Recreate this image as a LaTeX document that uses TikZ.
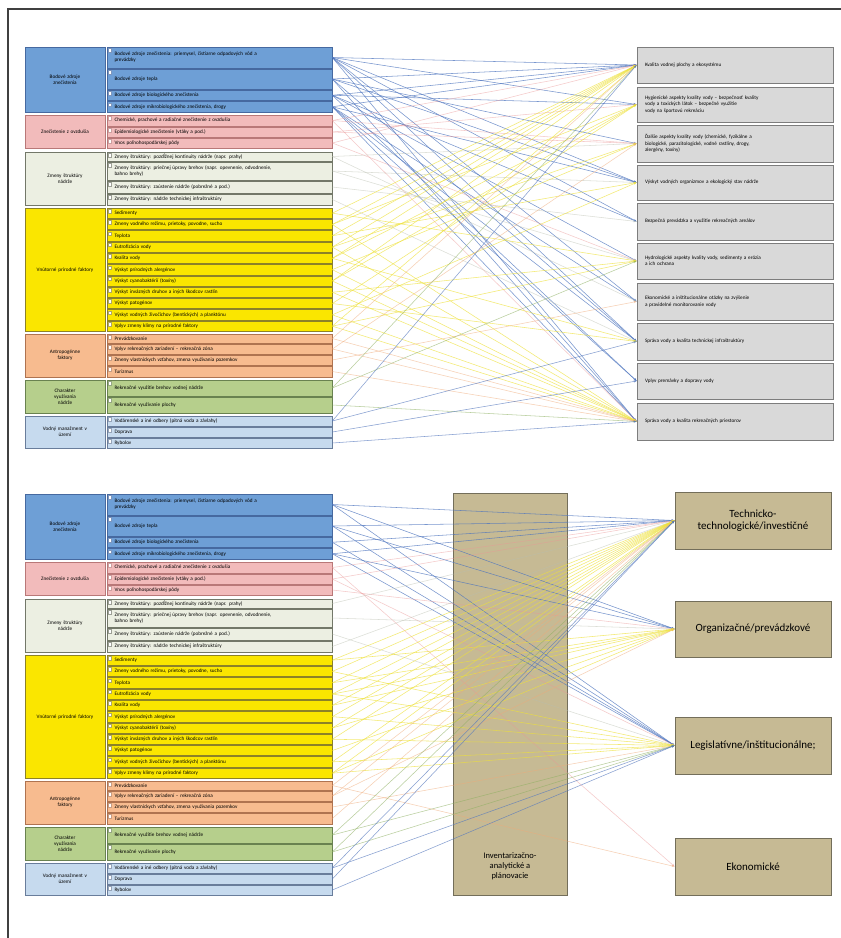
\documentclass[tikz,border=0pt]{standalone}
\usepackage{fontspec}
\setmainfont{Carlito}
\usetikzlibrary{arrows.meta}
\definecolor{blA}{RGB}{110,159,214}
\definecolor{blAd}{RGB}{70,105,160}
\definecolor{pkB}{RGB}{242,187,187}
\definecolor{pkBd}{RGB}{185,120,120}
\definecolor{grC}{RGB}{236,239,226}
\definecolor{grCd}{RGB}{115,120,105}
\definecolor{ylD}{RGB}{250,230,0}
\definecolor{ylDd}{RGB}{140,130,40}
\definecolor{orE}{RGB}{247,187,143}
\definecolor{orEd}{RGB}{175,115,80}
\definecolor{gnF}{RGB}{182,207,140}
\definecolor{gnFd}{RGB}{105,130,80}
\definecolor{lbG}{RGB}{198,218,238}
\definecolor{lbGd}{RGB}{105,125,155}
\definecolor{boxR}{RGB}{217,217,217}
\definecolor{boxRd}{RGB}{125,125,125}
\definecolor{tanbox}{RGB}{198,186,148}
\definecolor{tand}{RGB}{115,110,90}
\definecolor{cA}{RGB}{75,115,190}
\definecolor{cB}{RGB}{235,150,150}
\definecolor{cC}{RGB}{185,190,175}
\definecolor{cD}{RGB}{238,225,55}
\definecolor{cE}{RGB}{240,170,120}
\definecolor{cF}{RGB}{140,175,95}
\definecolor{cG}{RGB}{85,120,190}
\tikzset{
  itm/.style={rectangle, line width=0.6pt, text width=210pt, inner xsep=7.5pt, inner ysep=0pt,
    align=left, font=\fontsize{5.2}{6}\selectfont, minimum width=225pt},
  grp/.style={rectangle, line width=0.6pt, text width=74pt, inner xsep=3pt, inner ysep=0pt,
    align=center, font=\fontsize{5.2}{6.2}\selectfont, minimum width=80pt},
  rbox/.style={rectangle, draw=boxRd, fill=boxR, line width=0.7pt, text width=180pt, inner xsep=8pt,
    inner ysep=0pt, align=left, font=\fontsize{5.2}{6.4}\selectfont, minimum width=196pt},
  tbox/.style={rectangle, draw=tand, fill=tanbox, line width=0.8pt, align=center,
    font=\fontsize{11}{12.5}\selectfont, minimum width=156pt, inner sep=0pt},
  ln/.style={line width=0.55pt, -{Stealth[length=3pt,width=2.2pt]}},
  lnA/.style={ln, draw=cA, opacity=0.75},
  lnB/.style={ln, draw=cB, opacity=0.5},
  lnC/.style={ln, draw=cC, opacity=0.5},
  lnD/.style={ln, draw=cD, opacity=0.7},
  lnE/.style={ln, draw=cE, opacity=0.55},
  lnF/.style={ln, draw=cF, opacity=0.6},
  lnG/.style={ln, draw=cG, opacity=0.7},
}
\newcommand{\mkitem}[6]{%
  \node[itm, fill=#2, draw=#3, minimum height={(#5)-(#4)}] (#1) at (219.5,{((#4)+(#5))/2}) {#6};
  \draw[draw=#3!70, fill=white, line width=0.3pt] (#1.north west) ++(1.3,1.5) rectangle ++(3.5,3.5);
}
\newcommand{\mkgrp}[6]{%
  \node[grp, fill=#2, draw=#3, minimum height={(#5)-(#4)}] (#1) at (65,{((#4)+(#5))/2}) {#6};
}
\newcommand{\leftpanel}[2]{%
  \mkgrp{#1gA}{blA}{blAd}{47+#2}{112+#2}{Bodové zdroje\\znečistenia}
  \mkitem{#1A1}{blA}{blAd}{47+#2}{68+#2}{Bodové zdroje znečistenia: priemysel, čistiarne odpadových vôd a\\prevádzky}
  \mkitem{#1A2}{blA}{blAd}{69+#2}{89+#2}{Bodové zdroje tepla}
  \mkitem{#1A3}{blA}{blAd}{90+#2}{100.5+#2}{Bodové zdroje biologického znečistenia}
  \mkitem{#1A4}{blA}{blAd}{101.5+#2}{112+#2}{Bodové zdroje mikrobiologického znečistenia, drogy}
  \mkgrp{#1gB}{pkB}{pkBd}{115+#2}{148+#2}{Znečistenie z ovzdušia}
  \mkitem{#1B1}{pkB}{pkBd}{115+#2}{126+#2}{Chemické, prachové a radiačné znečistenie z ovzdušia}
  \mkitem{#1B2}{pkB}{pkBd}{127+#2}{137+#2}{Epidemiologické znečistenie (vtáky a pod.)}
  \mkitem{#1B3}{pkB}{pkBd}{138+#2}{148+#2}{Vnos poľnohospodárskej pôdy}
  \mkgrp{#1gC}{grC}{grCd}{152+#2}{205+#2}{Zmeny štruktúry\\nádrže}
  \mkitem{#1C1}{grC}{grCd}{152+#2}{161+#2}{Zmeny štruktúry: pozdĺžnej kontinuity nádrže (napr. prahy)}
  \mkitem{#1C2}{grC}{grCd}{162+#2}{180+#2}{Zmeny štruktúry: priečnej úpravy brehov (napr. opevnenie, odvodnenie,\\bahno brehy)}
  \mkitem{#1C3}{grC}{grCd}{181+#2}{193+#2}{Zmeny štruktúry: zaústenie nádrže (pobrežné a pod.)}
  \mkitem{#1C4}{grC}{grCd}{194+#2}{205+#2}{Zmeny štruktúry: nádrže technickej infraštruktúry}
  \mkgrp{#1gD}{ylD}{ylDd}{208+#2}{331.3+#2}{Vnútorné prírodné faktory}
  \mkitem{#1D1}{ylD}{ylDd}{208+#2}{218.3+#2}{Sedimenty}
  \mkitem{#1D2}{ylD}{ylDd}{219.3+#2}{229.6+#2}{Zmeny vodného režimu, prietoky, povodne, sucho}
  \mkitem{#1D3}{ylD}{ylDd}{230.6+#2}{240.9+#2}{Teplota}
  \mkitem{#1D4}{ylD}{ylDd}{241.9+#2}{252.2+#2}{Eutrofizácia vody}
  \mkitem{#1D5}{ylD}{ylDd}{253.2+#2}{263.5+#2}{Kvalita vody}
  \mkitem{#1D6}{ylD}{ylDd}{264.5+#2}{274.8+#2}{Výskyt prírodných alergénov}
  \mkitem{#1D7}{ylD}{ylDd}{275.8+#2}{286.1+#2}{Výskyt cyanobaktérií (toxíny)}
  \mkitem{#1D8}{ylD}{ylDd}{287.1+#2}{297.4+#2}{Výskyt invázných druhov a iných škodcov rastlín}
  \mkitem{#1D9}{ylD}{ylDd}{298.4+#2}{308.7+#2}{Výskyt patogénov}
  \mkitem{#1D10}{ylD}{ylDd}{309.7+#2}{320+#2}{Výskyt vodných živočíchov (bentických) a planktónu}
  \mkitem{#1D11}{ylD}{ylDd}{321+#2}{331.3+#2}{Vplyv zmeny klímy na prírodné faktory}
  \mkgrp{#1gE}{orE}{orEd}{334+#2}{377+#2}{Antropogénne\\faktory}
  \mkitem{#1E1}{orE}{orEd}{334+#2}{343+#2}{Prevádzkovanie}
  \mkitem{#1E2}{orE}{orEd}{344+#2}{354+#2}{Vplyv rekreačných zariadení – rekreačná zóna}
  \mkitem{#1E3}{orE}{orEd}{355+#2}{365+#2}{Zmeny vlastníckych vzťahov, zmena využívania pozemkov}
  \mkitem{#1E4}{orE}{orEd}{366+#2}{377+#2}{Turizmus}
  \mkgrp{#1gF}{gnF}{gnFd}{380+#2}{413+#2}{Charakter\\využívania\\nádrže}
  \mkitem{#1F1}{gnF}{gnFd}{380+#2}{396+#2}{Rekreačné využitie brehov vodnej nádrže}
  \mkitem{#1F2}{gnF}{gnFd}{397+#2}{413+#2}{Rekreačné využívanie plochy}
  \mkgrp{#1gG}{lbG}{lbGd}{416+#2}{448+#2}{Vodný manažment v\\území}
  \mkitem{#1G1}{lbG}{lbGd}{416+#2}{426+#2}{Vodárenské a iné odbery (pitná voda a závlahy)}
  \mkitem{#1G2}{lbG}{lbGd}{427+#2}{437+#2}{Doprava}
  \mkitem{#1G3}{lbG}{lbGd}{438+#2}{448+#2}{Rybolov}
}
\newcommand{\mkr}[4]{%
  \node[rbox, minimum height={(#3)-(#2)}] (#1) at (735,{((#2)+(#3))/2}) {#4};
}
\begin{document}
\begin{tikzpicture}[x=1pt, y=-1pt]
\useasboundingbox (0,0) rectangle (841,938);
\fill[white] (0,0) rectangle (841,938);
\draw[line width=1.2pt, black!75] (8,938) -- (8,9) -- (841,9);

% ---------- top panel ----------
\leftpanel{t}{0}
\mkr{R1}{47}{83}{Kvalita vodnej plochy a ekosystému}
\mkr{R2}{87}{122}{Hygienické aspekty kvality vody – bezpečnosť kvality\\vody a toxických látok – bezpečné využitie\\vody na športovú rekreáciu}
\mkr{R3}{125}{162}{Ďalšie aspekty kvality vody (chemické, fyzikálne a\\biologické, parazitologické, vodné rastliny, drogy,\\alergény, toxíny)}
\mkr{R4}{165}{200}{Výskyt vodných organizmov a ekologický stav nádrže}
\mkr{R5}{203}{240}{Bezpečná prevádzka a využitie rekreačných areálov}
\mkr{R6}{243}{279}{Hydrologické aspekty kvality vody, sedimenty a erózia\\a ich ochrana}
\mkr{R7}{283}{320}{Ekonomické a inštitucionálne otázky na zvýšenie\\a pravidelné monitorovanie vody}
\mkr{R8}{323}{360}{Správa vody a kvalita technickej infraštruktúry}
\mkr{R9}{363}{399}{Vplyv premávky a dopravy vody}
\mkr{R10}{403}{440}{Správa vody a kvalita rekreačných priestorov}

\foreach \s/\t in {A1/1,A1/2,A1/4,A1/5,A1/7,A1/8,A1/10,A2/1,A2/3,A2/4,A2/8,A2/10,A3/1,A3/2,A3/5,A3/6,A3/9,A4/1,A4/4,A4/7,A4/8,A4/9,A4/10}
  \draw[lnA] (t\s.east) -- (R\t.west);
\foreach \s/\t in {B1/1,B1/3,B1/10,B2/2,B2/3,B3/1,B3/6}
  \draw[lnB] (t\s.east) -- (R\t.west);
\foreach \s/\t in {C1/3,C1/7,C2/4,C2/6,C3/5,C4/8}
  \draw[lnC] (t\s.east) -- (R\t.west);
\foreach \s/\t in {D1/1,D1/6,D2/1,D2/2,D2/10,D3/1,D3/4,D4/1,D4/3,D4/10,D5/1,D5/2,D5/8,D6/3,D6/10,D7/1,D7/2,D7/10,D8/6,D8/10,D9/2,D9/8,D10/4,D10/10,D11/1,D11/6,D11/10}
  \draw[lnD] (t\s.east) -- (R\t.west);
\foreach \s/\t in {E1/1,E1/10,E2/3,E2/10,E3/7,E4/10}
  \draw[lnE] (t\s.east) -- (R\t.west);
\foreach \s/\t in {F1/1,F1/6,F2/10}
  \draw[lnF] (t\s.east) -- (R\t.west);
\foreach \s/\t in {G1/1,G1/8,G2/9,G3/10}
  \draw[lnG] (t\s.east) -- (R\t.west);

% ---------- bottom panel ----------
\leftpanel{b}{447}
\node[tbox, minimum width=114pt, minimum height=402pt] (M) at (510,694) {};
\node[font=\fontsize{8.5}{10}\selectfont, align=center, inner sep=0pt] (Mt) at (510,866) {Inventarizačno-\\analytické a\\plánovacie};
\node[tbox, minimum height=57pt] (T1) at (753,520.5) {Technicko-\\technologické/investičné};
\node[tbox, minimum height=56pt] (T2) at (753,629) {Organizačné/prevádzkové};
\node[tbox, minimum height=57pt] (T3) at (753,745.5) {Legislatívne/inštitucionálne;};
\node[tbox, minimum height=57pt] (T4) at (753,866.5) {Ekonomické};

\foreach \s/\t in {A1/1,A1/2,A1/3,A2/1,A2/2,A2/3,A3/1,A3/3,A4/1,A4/2,A4/3}
  \draw[lnA] (b\s.east) -- (T\t.west);
\foreach \s/\t in {B1/1,B1/4,B2/1,B2/3,B3/2}
  \draw[lnB] (b\s.east) -- (T\t.west);
\foreach \s/\t in {C1/1,C2/2,C3/3,C4/1}
  \draw[lnC] (b\s.east) -- (T\t.west);
\foreach \s/\t in {D1/1,D1/2,D2/1,D2/3,D3/1,D3/2,D4/1,D4/2,D4/3,D5/1,D5/2,D6/1,D6/3,D7/1,D7/2,D8/1,D8/3,D9/2,D10/1,D10/3,D11/1,D11/2,D11/3}
  \draw[lnD] (b\s.east) -- (T\t.west);
\foreach \s/\t in {E1/1,E1/4,E2/1,E2/2,E3/3,E4/1}
  \draw[lnE] (b\s.east) -- (T\t.west);
\foreach \s/\t in {F1/1,F1/3,F2/1,F2/3}
  \draw[lnF] (b\s.east) -- (T\t.west);
\foreach \s/\t in {G1/1,G1/3,G2/1,G3/3}
  \draw[lnG] (b\s.east) -- (T\t.west);
\end{tikzpicture}
\end{document}
